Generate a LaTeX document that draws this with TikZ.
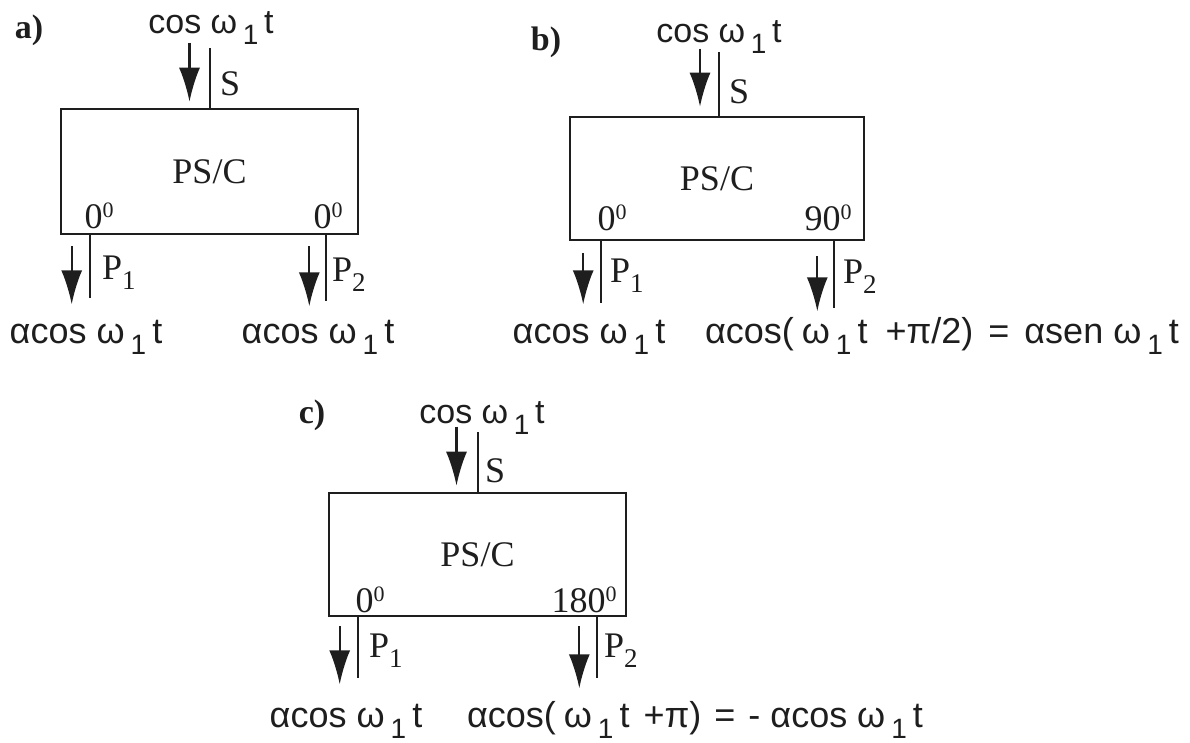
\documentclass[tikz,border=0pt]{standalone}
\usepackage{fontspec}
\setmainfont{Liberation Serif}
\newfontfamily\sigfont{Liberation Sans}
\usetikzlibrary{calc,arrows.meta}
\definecolor{inkx}{HTML}{1E1E1E}
\tikzset{
  blk/.style={draw=inkx,line width=2.6pt,minimum width=297pt,minimum height=125pt,inner sep=0pt,font=\fontsize{36}{40}\selectfont,text=inkx},
  port/.style={inkx,line width=2pt},
  ar/.style={-{Latex[length=34pt,width=21pt]},line width=2.2pt,inkx},
  lab/.style={font=\fontsize{36}{40}\selectfont,inner sep=0pt,anchor=base,text=inkx},
  sig/.style={font=\sigfont\fontsize{34}{40}\selectfont,inner sep=0pt,anchor=base,text=inkx},
  outsig/.style={sig,font=\sigfont\fontsize{36}{40}\selectfont},
  tag/.style={font=\bfseries\fontsize{34}{40}\selectfont,inner sep=0pt,anchor=base,text=inkx}
}
\newcommand{\wone}{\,\raisebox{-11pt}{\fontsize{28}{28}\selectfont 1}\,}
\newcommand{\pidx}[1]{\raisebox{-10pt}{\fontsize{27}{27}\selectfont #1}}
\newcommand{\degz}{\raisebox{11pt}{\fontsize{22}{22}\selectfont 0}}

\begin{document}
\begin{tikzpicture}[x=1pt,y=-1pt]
\useasboundingbox (0,0) rectangle (1190,742);
% a) 0 / 0
\node[blk] (boxa) at (209.5,171.5) {PS/C};
\draw[port] (boxa.north) -- ++(0,-60) coordinate (sa);
\draw[ar] ($(sa)+(-20,-5)$) -- ($(boxa.north)+(-20,-6)$);
\draw[port] ($(boxa.south west)+(30,0)$) -- ++(0,63) coordinate (pa1);
\draw[port] ($(boxa.south east)+(-33,0)$) -- ++(0,66) coordinate (pa2);
\draw[ar] ($(boxa.south west)+(12,11)$) -- ($(pa1)+(-18,6)$);
\draw[ar] ($(boxa.south east)+(-50,11)$) -- ($(pa2)+(-17,5)$);
\node[tag] (ta) at (29,38) {a)};
\node[sig] (ina) at (211,33) {cos ω\wone t};
\node[lab,anchor=base west] (sla) at (220,95) {S};
\node[lab] (da1) at (99,228) {0\degz};
\node[lab] (da2) at (328,228) {0\degz};
\node[lab,anchor=base west] (la1) at (102,279) {P\pidx{1}};
\node[lab,anchor=base west] (la2) at (332,281) {P\pidx{2}};
\node[outsig] (oa1) at (86,343) {αcos ω\wone t};
\node[outsig] (oa2) at (318,343) {αcos ω\wone t};
% b) 0 / 90
\node[blk,minimum width=294pt,minimum height=123pt] (boxb) at (717,178.5) {PS/C};
\draw[port] ($(boxb.north)+(2,0)$) -- ++(0,-64) coordinate (sb);
\draw[ar] ($(sb)+(-19,-3)$) -- ($(boxb.north)+(-17,-9)$);
\draw[port] ($(boxb.south west)+(32,0)$) -- ++(0,62) coordinate (pb1);
\draw[port] ($(boxb.south east)+(-31,0)$) -- ++(0,67) coordinate (pb2);
\draw[ar] ($(boxb.south west)+(14.5,12)$) -- ($(pb1)+(-17.5,1)$);
\draw[ar] ($(boxb.south east)+(-48,15)$) -- ($(pb2)+(-17,3)$);
\node[tag] (tb) at (546,50) {b)};
\node[sig] (inb) at (719,42) {cos ω\wone t};
\node[lab,anchor=base west] (slb) at (729,103) {S};
\node[lab] (db1) at (612,230) {0\degz};
\node[lab] (db2) at (828,230) {90\degz};
\node[lab,anchor=base west] (lb1) at (610,282) {P\pidx{1}};
\node[lab,anchor=base west] (lb2) at (843,283) {P\pidx{2}};
\node[outsig] (ob1) at (589,343) {αcos ω\wone t};
\node[outsig] (ob2) at (942,343) {αcos(\hspace{8pt}ω\wone t\hspace{18pt}+π/2)\hspace{5pt} = \hspace{5pt}αsen ω\wone t};
% c) 0 / 180
\node[blk,minimum height=123pt] (boxc) at (477.5,554.5) {PS/C};
\draw[port] (boxc.north) -- ++(0,-60) coordinate (sc);
\draw[ar] ($(sc)+(-21,-5)$) -- ($(boxc.north)+(-21,-6)$);
\draw[port] ($(boxc.south west)+(30,0)$) -- ++(0,61) coordinate (pc1);
\draw[port] ($(boxc.south east)+(-30,0)$) -- ++(0,61) coordinate (pc2);
\draw[ar] ($(boxc.south west)+(12,9)$) -- ($(pc1)+(-18,6)$);
\draw[ar] ($(boxc.south east)+(-48,9)$) -- ($(pc2)+(-18,10)$);
\node[tag] (tc) at (312,423) {c)};
\node[sig] (inc) at (482,423) {cos ω\wone t};
\node[lab,anchor=base west] (slc) at (485,482) {S};
\node[lab] (dc1) at (370,612) {0\degz};
\node[lab] (dc2) at (584,612) {180\degz};
\node[lab,anchor=base west] (lc1) at (369,657) {P\pidx{1}};
\node[lab,anchor=base west] (lc2) at (604,657) {P\pidx{2}};
\node[outsig] (oc1) at (346,727) {αcos ω\wone t};
\node[outsig] (oc2) at (695,727) {αcos(\hspace{8pt}ω\wone t\hspace{14pt}+π)\hspace{3pt} = \hspace{3pt}- αcos ω\wone t};
\end{tikzpicture}
\end{document}
